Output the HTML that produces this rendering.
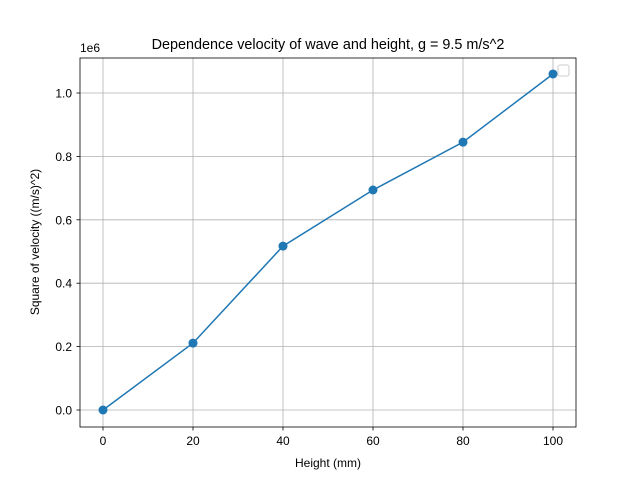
<!DOCTYPE html>
<html><head><meta charset="utf-8"><style>body{margin:0;background:#fff}svg{display:block;font-family:"Liberation Sans","DejaVu Sans",sans-serif}</style></head>
<body>
<svg id="chart" width="640" height="480">
<rect width="640" height="480" fill="#fff"/>
<g id="grid"></g>
<g id="ticks"></g>
<rect x="80" y="58" width="496" height="369" fill="none" stroke="#000" stroke-width="0.8"/>
<g id="series"></g>
<text x="328" y="49" font-size="14.4" text-anchor="middle">Dependence velocity of wave and height, g = 9.5 m/s^2</text>
<text x="80" y="52" font-size="12">1e6</text>
<text x="328" y="467" font-size="12" text-anchor="middle">Height (mm)</text>
<text transform="translate(39,242) rotate(-90)" font-size="12" text-anchor="middle">Square of velocity ((m/s)^2)</text>
<rect x="558" y="65" width="11" height="11" rx="2" fill="#fff" stroke="#ccc"/>
</svg>
<script>
const heights=[0,20,40,60,80,100];
const velocitySq=[0,0.211,0.517,0.694,0.845,1.06];
const xTicks=[0,20,40,60,80,100];
const yTicks=[0,0.2,0.4,0.6,0.8,1.0];
const NS="http://www.w3.org/2000/svg";
function xs(v){return 103+v*4.5;}
function ys(v){return 410-v*317;}
function mk(tag,attrs,parent,text){const e=document.createElementNS(NS,tag);for(const k in attrs)e.setAttribute(k,attrs[k]);if(text!==undefined)e.textContent=text;document.getElementById(parent).appendChild(e);return e;}
xTicks.forEach(t=>{const x=xs(t);
let g=mk('line',{x1:x,x2:x,y1:58,y2:427,stroke:'#b0b0b0','stroke-width':0.8},'grid');

let l=mk('line',{x1:x,x2:x,y1:427,y2:430.5,stroke:'#000','stroke-width':0.8},'ticks');

let tx=mk('text',{x:x,y:445,'font-size':12,'text-anchor':'middle'},'ticks',String(t));
});
yTicks.forEach(t=>{const y=ys(t);
let g=mk('line',{x1:80,x2:576,y1:y,y2:y,stroke:'#b0b0b0','stroke-width':0.8},'grid');

let l=mk('line',{x1:76.5,x2:80,y1:y,y2:y,stroke:'#000','stroke-width':0.8},'ticks');

let tx=mk('text',{x:72,y:y+4.5,'font-size':12,'text-anchor':'end'},'ticks',t.toFixed(1));
});
const pts=heights.map((h,i)=>xs(h)+','+ys(velocitySq[i])).join(' ');
let pl=mk('polyline',{points:pts,fill:'none',stroke:'#1f77b4','stroke-width':1.5},'series');

heights.forEach((h,i)=>{let c=mk('circle',{cx:xs(h),cy:ys(velocitySq[i]),r:4.5,fill:'#1f77b4'},'series');
});
</script>
</body></html>
